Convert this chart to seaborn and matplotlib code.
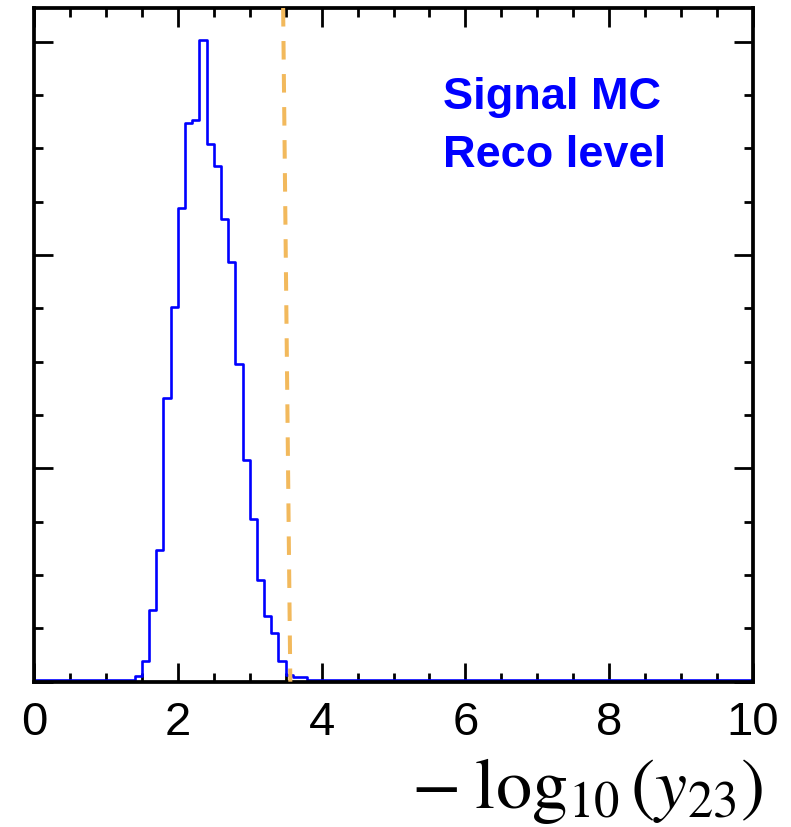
import numpy as np
import pandas as pd
import matplotlib
matplotlib.use("Agg")
import matplotlib.pyplot as plt
from matplotlib.ticker import MultipleLocator, NullFormatter
import seaborn as sns

# ---- data ----
bin_width = 0.1
x_range = (0.0, 10.0)
left_tail = [0.006] * 14                       # 0.0 - 1.4
peak_vals = [0.025, 0.098, 0.336, 0.619, 1.330,  # 1.4 - 1.9
             1.758, 2.221, 2.621, 2.633, 3.008,  # 1.9 - 2.4
             2.521, 2.418, 2.169, 1.968, 1.489,  # 2.4 - 2.9
             1.041, 0.763, 0.477, 0.308, 0.228,  # 2.9 - 3.4
             0.098, 0.030, 0.020, 0.020]         # 3.4 - 3.8
right_tail = [0.006] * 62                      # 3.8 - 10.0
counts = left_tail + peak_vals + right_tail
cut_x = [3.465, 3.565]                         # dashed cut line (top, bottom)

xticks_major = [0, 2, 4, 6, 8, 10]
xtick_labels = ["0", "2", "4", "6", "8", "10"]
text_lines = ["Signal MC", "Reco level"]

centers = x_range[0] + bin_width * (np.arange(len(counts)) + 0.5)
df = pd.DataFrame({"x": centers, "w": counts})

sns.set_style("white")
plt.rcParams["font.family"] = ["Liberation Sans", "DejaVu Sans"]
plt.rcParams["mathtext.fontset"] = "stix"
plt.rcParams["text.color"] = "black"

W, H = 791, 827
fig = plt.figure(figsize=(W / 100, H / 100), dpi=100)
ax_l, ax_r, ax_t, ax_b = 34, 753, 8, 681.7
ax = fig.add_axes([ax_l / W, 1 - ax_b / H, (ax_r - ax_l) / W, (ax_b - ax_t) / H])

sns.histplot(data=df, x="x", weights="w", binwidth=bin_width, binrange=x_range,
             element="step", fill=False, color="#0000ff", linewidth=1.9, ax=ax)

ymax = 3.158
ax.plot([cut_x[0], cut_x[1]], [ymax, 0], color="#f2b95c", linewidth=2.9,
        dashes=(4.6, 3.6), zorder=3, clip_on=False)

ax.set_xlim(0, 10)
ax.set_ylim(0, ymax)
ax.set_xticks(xticks_major)
ax.set_xticklabels(xtick_labels)
ax.xaxis.set_minor_locator(MultipleLocator(0.5))
ax.yaxis.set_major_locator(MultipleLocator(1))
ax.yaxis.set_minor_locator(MultipleLocator(0.25))
ax.yaxis.set_major_formatter(NullFormatter())
ax.set_ylabel("")
ax.set_xlabel("")

ax.tick_params(which="both", direction="in", top=True, right=True,
               bottom=True, left=True, width=2.0, color="black",
               labelcolor="black")
ax.tick_params(which="major", length=14, labelsize=34, pad=14)
ax.tick_params(which="minor", length=6.5)
for s in ax.spines.values():
    s.set_linewidth(2.7)
    s.set_color("black")

ax.text(0.569, 0.850, text_lines[0], transform=ax.transAxes, color="#0000ff",
        fontsize=32.5, fontweight="bold", ha="left", va="baseline")
ax.text(0.569, 0.764, text_lines[1], transform=ax.transAxes, color="#0000ff",
        fontsize=32.5, fontweight="bold", ha="left", va="baseline")

fig.text(763 / W, 1 - 808 / H, r"$-\;\log_{10}(y_{23})$", fontsize=52,
         ha="right", va="baseline", color="black")

fig.savefig("out.png", dpi=100)
